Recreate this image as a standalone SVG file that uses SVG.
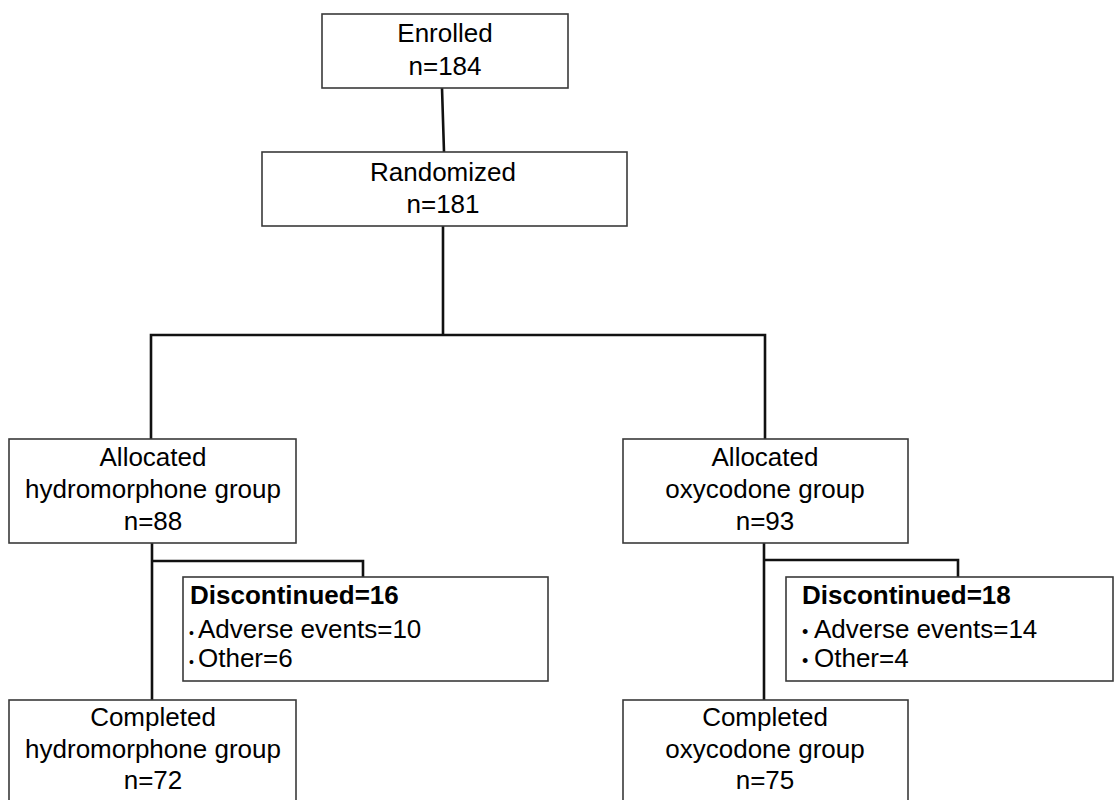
<svg xmlns="http://www.w3.org/2000/svg" width="1115" height="800" viewBox="0 0 1115 800">
<style>
.box{fill:#fff;stroke:#3a3a3a;stroke-width:1.6}
.c{fill:none;stroke:#111;stroke-width:2.6;stroke-linejoin:miter}
text{font-family:"Liberation Sans",Arial,sans-serif;font-size:26px;fill:#000}
.m{text-anchor:middle}
.b{font-weight:bold}
.bs{font-size:14px}
.bo{font-size:18px}
</style>
<rect width="1115" height="800" fill="#fff"/>
<g id="connectors">
<path class="c" d="M442,88 L444,152"/>
<path class="c" d="M443,226 V335 M151,439 V335 H765 V439"/>
<path class="c" d="M152,543 V700 M152,561 H363 V577"/>
<path class="c" d="M764,543 V700 M764,560 H958 V577"/>
</g>
<g id="enrolled">
<rect class="box" x="322" y="14" width="246" height="74"/>
<text class="m" x="445" y="42">Enrolled</text>
<text class="m" x="445" y="75">n=184</text>
</g>
<g id="randomized">
<rect class="box" x="262" y="152" width="365" height="74"/>
<text class="m" x="443" y="181">Randomized</text>
<text class="m" x="443" y="213">n=181</text>
</g>
<g id="alloc-hydro">
<rect class="box" x="9" y="439" width="287" height="104"/>
<text class="m" x="153" y="466">Allocated</text>
<text class="m" x="153" y="498">hydromorphone group</text>
<text class="m" x="153" y="530">n=88</text>
</g>
<g id="alloc-oxy">
<rect class="box" x="623" y="439" width="285" height="104"/>
<text class="m" x="765" y="466">Allocated</text>
<text class="m" x="765" y="498">oxycodone group</text>
<text class="m" x="765" y="530">n=93</text>
</g>
<g id="disc-hydro">
<rect class="box" x="183" y="577" width="365" height="104"/>
<text class="b" x="190" y="604">Discontinued=16</text>
<text x="189" y="638"><tspan class="bs">•</tspan><tspan x="198">Adverse events=10</tspan></text>
<text x="189" y="667"><tspan class="bs">•</tspan><tspan x="198">Other=6</tspan></text>
</g>
<g id="disc-oxy">
<rect class="box" x="786" y="577" width="327" height="104"/>
<text class="b" x="802" y="604">Discontinued=18</text>
<text x="802" y="638"><tspan class="bo">•</tspan><tspan x="814">Adverse events=14</tspan></text>
<text x="802" y="667"><tspan class="bo">•</tspan><tspan x="814">Other=4</tspan></text>
</g>
<g id="completed-hydro">
<rect class="box" x="9" y="700" width="287" height="110"/>
<text class="m" x="153" y="726">Completed</text>
<text class="m" x="153" y="758">hydromorphone group</text>
<text class="m" x="153" y="789">n=72</text>
</g>
<g id="completed-oxy">
<rect class="box" x="623" y="700" width="285" height="110"/>
<text class="m" x="765" y="726">Completed</text>
<text class="m" x="765" y="758">oxycodone group</text>
<text class="m" x="765" y="789">n=75</text>
</g>
</svg>
